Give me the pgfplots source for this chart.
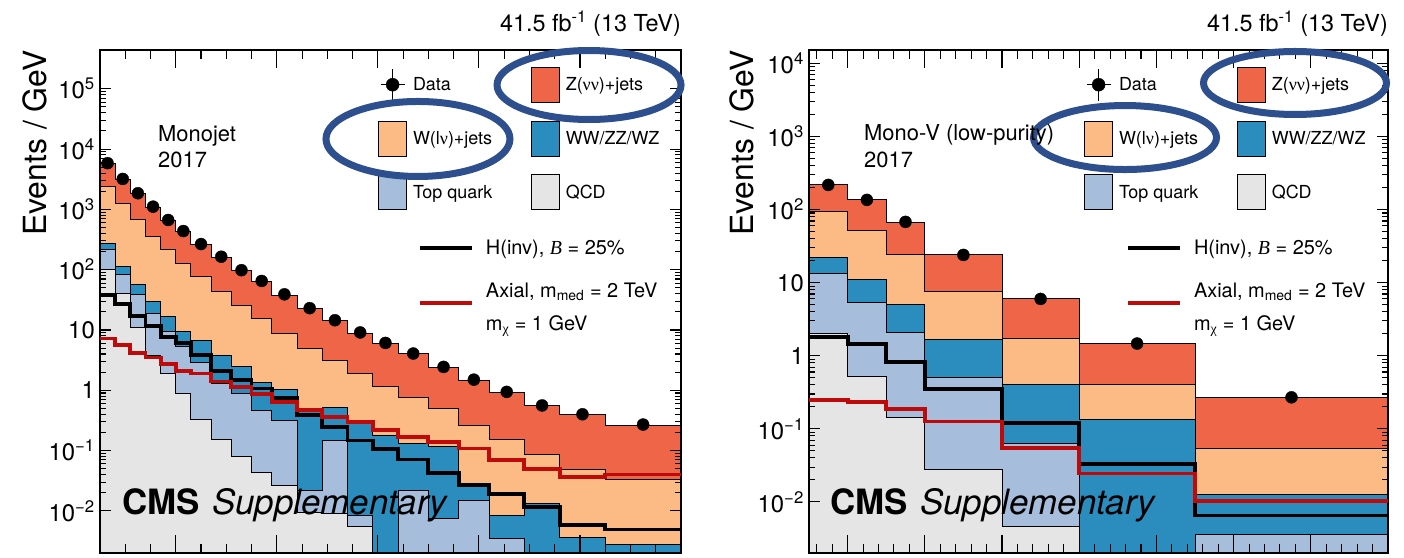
\documentclass[border=0pt]{standalone}
\usepackage{fontspec}
\setmainfont{TeX Gyre Heros}
\newfontfamily\grk{Liberation Serif}
\usepackage{pgfplots}
\usepackage{pgfplotstable}
\pgfplotsset{compat=1.18}

\definecolor{zcol}{RGB}{239,101,72}
\definecolor{wcol}{RGB}{252,187,132}
\definecolor{vvcol}{RGB}{43,140,190}
\definecolor{topcol}{RGB}{166,189,219}
\definecolor{qcdcol}{RGB}{229,229,229}
\definecolor{axred}{RGB}{190,10,10}
\definecolor{ellcol}{RGB}{46,79,141}

\pgfplotstableread{
x qcd top vv w z h ax
250 100 212 273 2380 5700 38 7.2
280 40 83 115 1260 3150 27 5.6
310 11 39 57 667 1800 17 4.2
340 3.8 18.6 30 352 1080 11.5 3.5
370 1.9 9.3 17 212 650 7.7 2.75
400 0.89 5.3 9.4 127 425 6.0 2.1
430 0.33 2.9 6.7 76 262 3.9 1.9
470 0.155 1.3 3.8 43 160 2.1 1.4
510 0.081 0.90 2.44 25 96 1.47 1.14
550 0.043 0.46 1.32 15.5 64 1.07 0.88
590 0.026 0.32 1.03 8.9 38 0.74 0.64
640 0.0095 0.022 0.50 4.9 22.5 0.385 0.47
690 0.009 0.147 0.52 3.1 14.2 0.246 0.36
740 0.0055 0.0085 0.32 1.9 8.9 0.147 0.30
790 0.0001 0.0001 0.18 1.14 6.0 0.105 0.22
840 0.0001 0.022 0.13 0.75 4.0 0.071 0.168
900 0.0001 0.0074 0.115 0.50 2.4 0.042 0.14
960 0.0001 0.015 0.025 0.26 1.47 0.027 0.108
1020 0.0001 0.0035 0.0083 0.15 0.92 0.019 0.069
1090 0.0001 0.0001 0.0130 0.085 0.55 0.0115 0.049
1160 0.0001 0.0001 0.0036 0.049 0.39 0.0059 0.036
1250 0.0001 0.0001 0.0028 0.033 0.265 0.0049 0.040
1400 0.0001 0.0001 0.0028 0.033 0.265 0.0049 0.040
}\leftstack

\pgfplotstableread{
xc d
265 5840
295 3200
325 1850
355 1110
385 667
415 437
450 266
490 164
530 98
570 65
615 39
665 23
715 14.5
765 9.1
815 6.1
870 4.07
930 2.44
990 1.5
1055 0.94
1125 0.56
1205 0.40
1325 0.27
}\leftdata

\pgfplotstableread{
x qcd top vv w z h ax
250 2.04 13.5 22 95 218 1.83 0.25
300 0.52 5.35 11.2 52.5 136 1.44 0.236
350 0.145 2.1 5.1 24 67.5 0.83 0.187
400 0.028 0.51 1.69 7.6 24 0.355 0.126
500 0.0046 0.064 0.41 1.7 6.1 0.12 0.055
600 0.0001 0.0001 0.133 0.40 1.48 0.033 0.0245
750 0.0001 0.0036 0.0126 0.054 0.27 0.0065 0.0102
1000 0.0001 0.0036 0.0126 0.054 0.27 0.0065 0.0102
}\rightstack

\pgfplotstableread{
xc d
275 218
325 136
375 68
450 24
550 6.0
675 1.47
875 0.27
}\rightdata

\tikzset{
  stacklayer/.style={const plot, draw=black, line width=1bp, fill=#1},
}
\pgfplotsset{
  boxleg/.style={legend image code/.code={\draw[fill=#1,draw=black,line width=0.8bp] (0bp,-17.5bp) rectangle (28bp,17.5bp);}},
  dataleg/.style={legend image code/.code={\path[draw=none,fill=none] (0bp,-17.5bp) rectangle (28bp,17.5bp); \draw[black,line width=1.5bp] (14bp,-16bp)--(14bp,16bp) (2bp,0bp)--(26bp,0bp); \fill[black] (14bp,0bp) circle (6.5bp);}},
  lineleg/.style={legend image code/.code={\draw[#1, line width=3.8bp] (0bp,0bp)--(52bp,0bp);}},
  axleg/.style={legend image code/.code={\path[draw=none] (0bp,0bp)--(52bp,0bp); \draw[axred, line width=3.8bp, overlay] (0bp,-5bp)--(52bp,-5bp);}},
}
\newcommand{\ylabs}{10\textsuperscript{−2},10\textsuperscript{−1},1,10,10\textsuperscript{2},10\textsuperscript{3},10\textsuperscript{4},10\textsuperscript{5}}

\begin{document}
\begin{tikzpicture}
\useasboundingbox (0bp,0bp) rectangle (1404bp,558bp);

% ---------------- left panel ----------------
\begin{axis}[scale only axis, height=503bp, width=581bp, anchor=south west, at={(100bp,5bp)},
  ymode=log, log origin=infty, ymin=2e-3, ymax=4.4e5,
  xmin=250, xmax=1400, axis on top,
  axis line style={line width=1.8bp},
  tick align=inside, xtick pos=both, ytick pos=both,
  tick style={black, line width=1.1bp},
  major tick length=11bp, minor tick length=6bp,
  xtick style={/pgfplots/major tick length=18bp, /pgfplots/minor tick length=9bp},
  xtick={400,600,...,1400}, minor xtick={250,300,...,1400},
  xticklabels={},
  ytick={1e-2,1e-1,1,10,100,1000,10000,100000},
  yticklabels/.expand once={\ylabs},
  yticklabel style={font=\fontsize{24}{28}\selectfont, inner sep=0pt, xshift=-5bp},
  clip mode=individual,
  legend columns=2, legend cell align=left,
  legend style={at={(rel axis cs:0.4785,0.967)}, anchor=north west, draw=none, fill=none,
      inner sep=0pt, row sep=18bp, column sep=0pt, font=\fontsize{18}{21}\selectfont, nodes={inner sep=0pt}}]
\addplot[stacklayer=zcol, forget plot] table[x=x,y=z]{\leftstack} \closedcycle;
\addplot[stacklayer=wcol, forget plot] table[x=x,y=w]{\leftstack} \closedcycle;
\addplot[stacklayer=vvcol, forget plot] table[x=x,y=vv]{\leftstack} \closedcycle;
\addplot[stacklayer=topcol, forget plot] table[x=x,y=top]{\leftstack} \closedcycle;
\addplot[stacklayer=qcdcol, forget plot] table[x=x,y=qcd]{\leftstack} \closedcycle;
\addplot[only marks, mark=*, mark size=6bp, black, forget plot] table[x=xc,y=d]{\leftdata};
\addlegendimage{dataleg}\addlegendentry{\makebox[124bp][l]{\hspace{6bp}Data}}
\addlegendimage{boxleg=zcol}\addlegendentry{\hspace{6bp}Z({\grk νν})+jets}
\addlegendimage{boxleg=wcol}\addlegendentry{\makebox[124bp][l]{\hspace{6bp}W(l{\grk ν})+jets}}
\addlegendimage{boxleg=vvcol}\addlegendentry{\hspace{6bp}WW/ZZ/WZ}
\addlegendimage{boxleg=topcol}\addlegendentry{\makebox[124bp][l]{\hspace{6bp}Top quark}}
\addlegendimage{boxleg=qcdcol}\addlegendentry{\hspace{6bp}QCD}
\end{axis}

\begin{axis}[scale only axis, height=503bp, width=581bp, anchor=south west, at={(100bp,5bp)},
  ymode=log, ymin=2e-3, ymax=4.4e5, xmin=250, xmax=1400, hide axis, clip mode=individual,
  legend columns=1, legend cell align=left,
  legend style={at={(rel axis cs:0.5473,0.623)}, anchor=north west, draw=none, fill=none,
      inner sep=0pt, row sep=25bp, font=\fontsize{20}{24}\selectfont, nodes={inner sep=0pt}}]
\addplot[const plot, black, line width=3.8bp, forget plot] table[x=x,y=h]{\leftstack};
\addplot[const plot, axred, line width=3.8bp, forget plot] table[x=x,y=ax]{\leftstack};
\addlegendimage{lineleg=black}\addlegendentry{\hspace{12bp}H(inv), {\grk\itshape B} = 25\%}
\addlegendimage{axleg}\addlegendentry{\hspace{12bp}\begin{tabular}{@{}l@{}}Axial, m\textsubscript{med} = 2 TeV\\[9bp]m\textsubscript{\grk χ} = 1 GeV\end{tabular}}
\draw[ellcol, line width=7bp] (rel axis cs:0.8417,0.9304) ellipse [x radius=92bp, y radius=34.5bp];
\draw[ellcol, line width=7bp] (rel axis cs:0.5473,0.8231) ellipse [x radius=92bp, y radius=37.5bp];
\end{axis}

% ---------------- right panel ----------------
\begin{axis}[scale only axis, height=503bp, width=579bp, anchor=south west, at={(809bp,5bp)},
  ymode=log, log origin=infty, ymin=2e-3, ymax=1.53e4,
  xmin=250, xmax=1000, axis on top,
  axis line style={line width=1.8bp},
  tick align=inside, xtick pos=both, ytick pos=both,
  tick style={black, line width=1.1bp},
  major tick length=11bp, minor tick length=6bp,
  xtick style={/pgfplots/major tick length=18bp, /pgfplots/minor tick length=9bp},
  xtick={300,400,...,1000}, minor xtick={260,280,...,1000},
  xticklabels={},
  ytick={1e-2,1e-1,1,10,100,1000,10000,100000},
  yticklabels/.expand once={\ylabs},
  yticklabel style={font=\fontsize{24}{28}\selectfont, inner sep=0pt, xshift=-5bp},
  clip mode=individual,
  legend columns=2, legend cell align=left,
  legend style={at={(rel axis cs:0.475,0.967)}, anchor=north west, draw=none, fill=none,
      inner sep=0pt, row sep=18bp, column sep=0pt, font=\fontsize{18}{21}\selectfont, nodes={inner sep=0pt}}]
\addplot[stacklayer=zcol, forget plot] table[x=x,y=z]{\rightstack} \closedcycle;
\addplot[stacklayer=wcol, forget plot] table[x=x,y=w]{\rightstack} \closedcycle;
\addplot[stacklayer=vvcol, forget plot] table[x=x,y=vv]{\rightstack} \closedcycle;
\addplot[stacklayer=topcol, forget plot] table[x=x,y=top]{\rightstack} \closedcycle;
\addplot[stacklayer=qcdcol, forget plot] table[x=x,y=qcd]{\rightstack} \closedcycle;
\addplot[only marks, mark=*, mark size=6bp, black, forget plot] table[x=xc,y=d]{\rightdata};
\addlegendimage{dataleg}\addlegendentry{\makebox[124bp][l]{\hspace{6bp}Data}}
\addlegendimage{boxleg=zcol}\addlegendentry{\hspace{6bp}Z({\grk νν})+jets}
\addlegendimage{boxleg=wcol}\addlegendentry{\makebox[124bp][l]{\hspace{6bp}W(l{\grk ν})+jets}}
\addlegendimage{boxleg=vvcol}\addlegendentry{\hspace{6bp}WW/ZZ/WZ}
\addlegendimage{boxleg=topcol}\addlegendentry{\makebox[124bp][l]{\hspace{6bp}Top quark}}
\addlegendimage{boxleg=qcdcol}\addlegendentry{\hspace{6bp}QCD}
\end{axis}

\begin{axis}[scale only axis, height=503bp, width=579bp, anchor=south west, at={(809bp,5bp)},
  ymode=log, ymin=2e-3, ymax=1.53e4, xmin=250, xmax=1000, hide axis, clip mode=individual,
  legend columns=1, legend cell align=left,
  legend style={at={(rel axis cs:0.5475,0.623)}, anchor=north west, draw=none, fill=none,
      inner sep=0pt, row sep=25bp, font=\fontsize{20}{24}\selectfont, nodes={inner sep=0pt}}]
\addplot[const plot, black, line width=3.8bp, forget plot] table[x=x,y=h]{\rightstack};
\addplot[const plot, axred, line width=3.8bp, forget plot] table[x=x,y=ax]{\rightstack};
\addlegendimage{lineleg=black}\addlegendentry{\hspace{12bp}H(inv), {\grk\itshape B} = 25\%}
\addlegendimage{axleg}\addlegendentry{\hspace{12bp}\begin{tabular}{@{}l@{}}Axial, m\textsubscript{med} = 2 TeV\\[9bp]m\textsubscript{\grk χ} = 1 GeV\end{tabular}}
\draw[ellcol, line width=7bp] (rel axis cs:0.8394,0.9344) ellipse [x radius=91.5bp, y radius=31.5bp];
\draw[ellcol, line width=7bp] (rel axis cs:0.5458,0.8260) ellipse [x radius=91.5bp, y radius=32bp];
\end{axis}

% ---------------- texts ----------------
\node[anchor=base east, inner sep=0pt, font=\fontsize{23.5}{26}\selectfont] at (681bp,526bp) {41.5 fb\textsuperscript{-1} (13 TeV)};
\node[anchor=base east, inner sep=0pt, font=\fontsize{23.5}{26}\selectfont] at (1388bp,526bp) {41.5 fb\textsuperscript{-1} (13 TeV)};
\node[rotate=90, anchor=south east, inner sep=0pt, font=\fontsize{32}{36}\selectfont] at (47bp,508bp) {Events / GeV};
\node[rotate=90, anchor=south east, inner sep=0pt, font=\fontsize{32}{36}\selectfont] at (754bp,508bp) {Events / GeV};
\node[anchor=base west, inner sep=0pt, font=\fontsize{22}{26}\selectfont] at (158bp,416bp) {Monojet};
\node[anchor=base west, inner sep=0pt, font=\fontsize{22}{26}\selectfont] at (158bp,390bp) {2017};
\node[anchor=base west, inner sep=0pt, font=\fontsize{22}{26}\selectfont] at (864bp,417bp) {Mono-V (low-purity)};
\node[anchor=base west, inner sep=0pt, font=\fontsize{22}{26}\selectfont] at (864bp,390bp) {2017};
\node[anchor=base west, inner sep=0pt, font=\fontsize{35}{40}\selectfont\bfseries] at (122bp,43bp) {CMS};
\node[anchor=base west, inner sep=0pt, font=\fontsize{35}{40}\selectfont\itshape] at (212bp,43bp) {Supplementary};
\node[anchor=base west, inner sep=0pt, font=\fontsize{35}{40}\selectfont\bfseries] at (830bp,43bp) {CMS};
\node[anchor=base west, inner sep=0pt, font=\fontsize{35}{40}\selectfont\itshape] at (920bp,43bp) {Supplementary};
\end{tikzpicture}
\end{document}
